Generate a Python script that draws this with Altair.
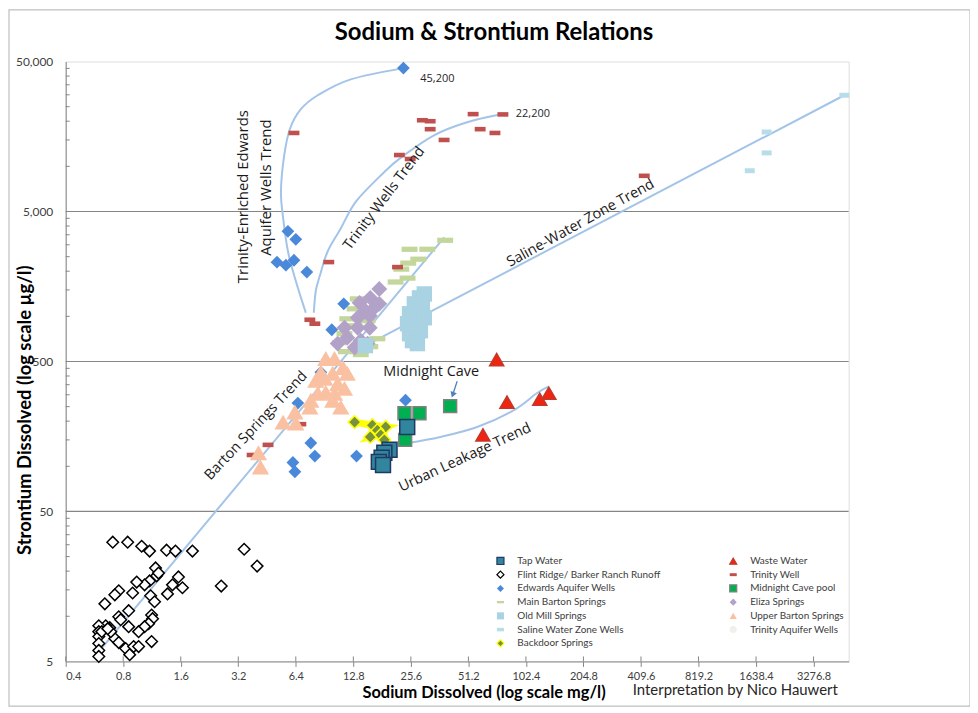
import altair as alt
import pandas as pd

# ---------------- data ----------------
SERIES = ["Tap Water", "Waste Water", "Flint Ridge/ Barker Ranch Runoff", "Trinity Well",
          "Edwards Aquifer Wells", "Midnight Cave pool", "Main Barton Springs", "Eliza Springs",
          "Old Mill Springs", "Upper Barton Springs", "Saline Water Zone Wells",
          "Trinity Aquifer Wells", "Backdoor Springs"]

tap_na = [24.5, 19.8, 18.6, 18.0, 17.4, 18.3]
tap_sr = [183, 129, 123, 114, 107, 102]

waste_na = [72, 81.5, 121, 135, 61]
waste_sr = [515, 268, 280, 307, 162]

flint_na = [0.705, 0.844, 0.999, 1.099, 1.348, 1.501, 1.842, 3.434, 4.015, 2.606, 1.181, 1.196,
            1.099, 1.035, 0.941, 0.896, 0.758, 0.723, 0.641, 1.113, 1.364, 1.448, 1.556, 1.633,
            0.854, 0.758, 1.126, 1.139, 1.086, 1.035, 0.963, 0.854, 0.68, 0.648, 0.596, 0.596,
            0.596, 0.596, 0.596, 0.596, 0.723, 0.758, 0.824, 0.865, 0.907, 0.963, 1.126, 0.689,
            0.618, 0.664, 0.776, 1.224, 1.167]
flint_sr = [31.2, 31.2, 29.3, 27.2, 27.6, 27.2, 27.2, 28.0, 21.6, 15.9, 21.0, 18.6,
            17.2, 16.2, 16.9, 14.3, 14.8, 13.9, 12.1, 13.7, 14.1, 16.2, 18.3, 15.5,
            10.9, 9.93, 10.2, 9.64, 8.93, 8.53, 7.9, 8.53, 8.4, 8.65, 8.65, 7.9,
            7.32, 6.58, 5.92, 5.4, 7.1, 6.68, 6.1, 5.55, 6.28, 6.28, 6.78, 7.9,
            7.9, 8.27, 9.49, 19.4, 12.5]

trin_na = [6.26, 29.4, 32.3, 32.3, 38.2, 22.3, 25.4, 54.2, 59.0, 70.5, 77.6, 426, 9.52,
           7.58, 8.05, 21.8, 3.78, 4.58, 6.8]
trin_sr = [16700, 20300, 20000, 17700, 15000, 11900, 11200, 22300, 17700, 16700, 22200, 8650,
           2300, 949, 893, 2130, 119, 139, 191]

edw_na = [23.4, 5.82, 6.4, 5.1, 5.68, 6.26, 7.31, 11.4, 9.87, 8.65, 6.56, 7.67, 8.05, 6.18,
          6.33, 13.3, 24.0]
edw_sr = [45200, 3690, 3265, 2296, 2193, 2366, 1972, 1211, 814, 423, 264, 143, 117, 106,
          92, 117, 276]

mid_na = [23.7, 28.4, 23.9, 41.1]
mid_sr = [226, 226, 150, 252]

mb_na = [38.7, 31.2, 25.2, 28.0, 24.8, 22.8, 24.6, 21.3, 13.5, 13.0, 11.9, 15.2, 11.5, 10.9,
         11.7, 14.0, 15.7, 17.1, 12.8]
mb_sr = [3214, 2800, 2800, 2404, 2264, 2065, 1798, 1694, 1307, 1122, 963, 935, 766, 668,
         582, 556, 628, 709, 865]

eli_na = [17.5, 15.7, 13.8, 17.5, 14.8, 16.5, 15.6, 13.5, 11.5, 13.5, 15.6, 11.9, 14.0,
          10.6, 13.0, 15.2]
eli_sr = [1521, 1327, 1230, 1211, 1089, 1140, 1009, 978, 840, 840, 840, 721, 689, 658,
          619, 658]

om_na = [28.4, 30.1, 26.7, 29.4, 25.2, 27.7, 30.1, 24.6, 26.7, 28.7, 25.2, 26.1, 27.7, 14.8]
om_sr = [1327, 1410, 1211, 1140, 1040, 1009, 978, 893, 840, 802, 766, 689, 658, 638]

ub_na = [9.18, 10.2, 11.3, 8.65, 8.14, 9.07, 9.98, 11.9, 10.6, 11.5, 8.34, 9.18, 10.2, 7.67,
         9.98, 11.0, 7.58, 6.33, 5.49, 6.4, 4.08, 4.18]
ub_sr = [523, 523, 456, 423, 374, 386, 417, 417, 357, 331, 307, 312, 307, 276, 276, 248,
         248, 230, 197, 194, 123, 99]

sal_na = [4748, 1862, 1862, 1519]
sal_sr = [29800, 16940, 12300, 9350]

bd_na = [13.0, 16.1, 18.9, 17.1, 15.7, 17.8, 18.6]
bd_sr = [197, 188, 183, 174, 157, 162, 150]

# trend lines
tr_enriched_na = [7.22, 6.4, 5.82, 5.48, 5.35, 5.55, 5.96, 6.8, 8.34, 12.4, 23.4]
tr_enriched_sr = [1057, 1720, 2716, 4634, 6780, 11560, 17740, 24040, 29790, 38000, 45200]
tr_trinity_na = [7.95, 8.14, 8.54, 9.4, 11.0, 13.2, 18.2, 22.6, 34.0, 50.4, 74.9]
tr_trinity_sr = [1057, 1476, 1857, 2716, 3856, 5820, 8930, 11400, 16180, 19700, 22200]
tr_saline_na = [14.8, 4748]
tr_saline_sr = [638, 29800]
tr_barton_na = [0.596, 38.3]
tr_barton_sr = [5.82, 3365]
tr_urban_na = [24.6, 36.5, 56.9, 88.6, 116.7, 135]
tr_urban_sr = [143, 157, 183, 237, 307, 341]

# annotation texts
ann_text = ["Trinity-Enriched Edwards", "Aquifer Wells Trend", "Trinity Wells Trend",
            "Saline-Water Zone Trend", "Barton Springs Trend", "Urban Leakage Trend",
            "Midnight Cave"]
ann_na = [3.39, 4.47, 18.6, 198, 3.97, 49.2, 32.7]
ann_sr = [6285, 7210, 6100, 4166, 186, 114, 423]
ann_angle = [270, 270, 307, 331, 313, 335, 0]
ann_size = [15, 15, 14.5, 14.5, 14.5, 14.5, 14.5]

lab_text = ["45,200", "22,200"]
lab_na = [28.7, 90.7]
lab_sr = [38000, 22300]

arrow_na = [44.7]
arrow_sr = [369]
arrow_na2 = [42.4]
arrow_sr2 = [300]

x_ticks = [0.4, 0.8, 1.6, 3.2, 6.4, 12.8, 25.6, 51.2, 102.4, 204.8, 409.6, 819.2, 1638.4, 3276.8]
y_ticks = [5, 50, 500, 5000, 50000]
y_grid = [50, 500, 5000]
y_minor = [10, 15, 20, 25, 30, 35, 40, 45, 100, 150, 200, 250, 300, 350, 400, 450,
           1000, 1500, 2000, 2500, 3000, 3500, 4000, 4500,
           10000, 15000, 20000, 25000, 30000, 35000, 40000, 45000]

# ---------------- styling ----------------
DASH_T = "M-1,-0.42L1,-0.42L1,0.42L-1,0.42Z"
DASH_MB = "M-1,-0.33L1,-0.33L1,0.33L-1,0.33Z"
DASH_S = "M-1,-0.5L1,-0.5L1,0.5L-1,0.5Z"
shapes = ["square", "triangle-up", "diamond", DASH_T, "diamond", "square", DASH_MB, "diamond",
          "square", "triangle-up", DASH_S, "circle", "diamond"]
fills = ["#31859C", "#F2230F", "#FFFFFF", "#C0504D", "#4A88DA", "#00B050", "#C3D69B",
         "#B3A2C7", "#A9D2E3", "#FAC0A2", "#B7DEE8", "#F1F0EC", "#76923C"]
strokes = ["#1F3864", "#C0392B", "#000000", "transparent", "transparent", "#7F7F7F",
           "transparent", "transparent", "transparent", "transparent", "transparent",
           "transparent", "#FFFF00"]
sizes = [225, 200, 135, 120, 165, 169, 256, 256, 240, 300, 100, 20, 165]

# draw order (bottom to top)
draw = [
    ("Main Barton Springs", mb_na, mb_sr),
    ("Eliza Springs", eli_na, eli_sr),
    ("Old Mill Springs", om_na, om_sr),
    ("Trinity Well", trin_na, trin_sr),
    ("Edwards Aquifer Wells", edw_na, edw_sr),
    ("Upper Barton Springs", ub_na, ub_sr),
    ("Flint Ridge/ Barker Ranch Runoff", flint_na, flint_sr),
    ("Saline Water Zone Wells", sal_na, sal_sr),
    ("Waste Water", waste_na, waste_sr),
    ("Backdoor Springs", bd_na, bd_sr),
    ("Midnight Cave pool", mid_na, mid_sr),
    ("Tap Water", tap_na, tap_sr),
]
rows = []
for name, xs, ys in draw:
    for a, b in zip(xs, ys):
        rows.append({"series": name, "na": a, "sr": b})
pts = pd.DataFrame(rows)

trend_rows = []
for name, xs, ys in [("enriched", tr_enriched_na, tr_enriched_sr),
                     ("trinity", tr_trinity_na, tr_trinity_sr),
                     ("saline", tr_saline_na, tr_saline_sr),
                     ("barton", tr_barton_na, tr_barton_sr),
                     ("urban", tr_urban_na, tr_urban_sr)]:
    for i, (a, b) in enumerate(zip(xs, ys)):
        trend_rows.append({"trend": name, "i": i, "na": a, "sr": b})
trends = pd.DataFrame(trend_rows)

bd_line = pd.DataFrame({"i": list(range(len(bd_na))), "na": bd_na, "sr": bd_sr})
ann = pd.DataFrame({"t": ann_text, "na": ann_na, "sr": ann_sr, "angle": ann_angle, "size": ann_size})
labs = pd.DataFrame({"t": lab_text, "na": lab_na, "sr": lab_sr})
arrow = pd.DataFrame({"na": arrow_na, "sr": arrow_sr, "na2": arrow_na2, "sr2": arrow_sr2})
grid = pd.DataFrame({"sr": y_grid})
minor = pd.DataFrame({"sr": y_minor})
xtk = pd.DataFrame({"na": x_ticks})

xscale = alt.Scale(type="log", base=2, domain=[0.4, 5000], nice=False)
yscale = alt.Scale(type="log", base=10, domain=[5, 50000], nice=False)

X = alt.X("na:Q", scale=xscale, axis=alt.Axis(
    values=x_ticks, format="~g", title="Sodium Dissolved (log scale mg/l)",
    titleFont="Lato", titleFontSize=16.5, titleFontWeight="bold", titleColor="black",
    titleX=420, titleY=31, titleBaseline="middle", titleAlign="center",
    labelFont="Lato", labelFontSize=11, labelColor="#404040", labelPadding=4,
    tickSize=5, tickColor="#868686", domainColor="#868686", grid=False))
Y = alt.Y("sr:Q", scale=yscale, axis=alt.Axis(
    values=y_ticks, format=",d", title="Strontium  Dissolved (log scale µg/l)",
    titleFont="Lato", titleFontSize=18.5, titleFontWeight="bold", titleColor="black",
    titleX=-31, titleY=350, titleAlign="center", titleBaseline="bottom", titleAngle=270,
    labelFont="Lato", labelFontSize=12, labelColor="#404040", labelPadding=13,
    ticks=False, domainColor="#868686", grid=False))

legend = alt.Legend(title=None, orient="none", legendX=432, legendY=497, columns=2,
                    direction="horizontal",
                    columnPadding=66, rowPadding=1.8, symbolSize=50, labelFontSize=10,
                    labelColor="#404040", labelFont="Lato", labelOffset=12,
                    symbolStrokeWidth=1.2, labelLimit=300)

border = alt.Chart(pd.DataFrame({"a": [0]})).mark_rect(
    fillOpacity=0, stroke="#BFBFBF", strokeWidth=1.2).encode(
    x=alt.value(-57), x2=alt.value(909), y=alt.value(-52), y2=alt.value(648))

grid_l = alt.Chart(grid).mark_rule(color="#868686", strokeWidth=1.2).encode(y=alt.Y("sr:Q", scale=yscale))
minor_l = alt.Chart(minor).mark_rule(color="#868686", strokeWidth=1).encode(
    y=alt.Y("sr:Q", scale=yscale), x=alt.value(0), x2=alt.value(4))
xin_l = alt.Chart(xtk).mark_rule(color="#868686", strokeWidth=1).encode(
    x=alt.X("na:Q", scale=xscale), y=alt.value(598), y2=alt.value(603))

trend_l = alt.Chart(trends).mark_line(color="#A3C4E8", strokeWidth=2, interpolate="cardinal").encode(
    x=alt.X("na:Q", scale=xscale), y=alt.Y("sr:Q", scale=yscale), detail="trend:N", order="i:Q")

bd_l = alt.Chart(bd_line).mark_line(color="#FFFF00", strokeWidth=7).encode(
    x=alt.X("na:Q", scale=xscale), y=alt.Y("sr:Q", scale=yscale), order="i:Q")

pts_l = alt.Chart(pts).mark_point(filled=True, opacity=1, strokeWidth=1.5).encode(
    x=X, y=Y,
    fill=alt.Fill("series:N", scale=alt.Scale(domain=SERIES, range=fills), legend=legend),
    stroke=alt.Stroke("series:N", scale=alt.Scale(domain=SERIES, range=strokes), legend=legend),
    shape=alt.Shape("series:N", scale=alt.Scale(domain=SERIES, range=shapes), legend=legend),
    size=alt.Size("series:N", scale=alt.Scale(type="ordinal", domain=SERIES, range=sizes), legend=None),
)

ann_l = alt.Chart(ann).mark_text(font="Open Sans", color="#1A1A1A", align="center", baseline="middle").encode(
    x=alt.X("na:Q", scale=xscale), y=alt.Y("sr:Q", scale=yscale), text="t:N",
    angle=alt.Angle("angle:Q", scale=None), size=alt.Size("size:Q", scale=None, legend=None))

labs_l = alt.Chart(labs).mark_text(font="Open Sans", fontSize=11, color="#262626", align="left", baseline="middle").encode(
    x=alt.X("na:Q", scale=xscale), y=alt.Y("sr:Q", scale=yscale), text="t:N")

arrow_l = alt.Chart(arrow).mark_rule(color="#4F81BD", strokeWidth=1.3).encode(
    x=alt.X("na:Q", scale=xscale), y=alt.Y("sr:Q", scale=yscale), x2="na2:Q", y2="sr2:Q")
head_l = alt.Chart(arrow).mark_point(shape="triangle-down", filled=True, color="#4F81BD", size=45, angle=20, opacity=1).encode(
    x=alt.X("na2:Q", scale=xscale), y=alt.Y("sr2:Q", scale=yscale))

credit = alt.Chart(pd.DataFrame({"t": ["Interpretation by Nico Hauwert"]})).mark_text(
    font="Lato", fontSize=15, color="#262626", align="left", baseline="middle").encode(
    text="t:N", x=alt.value(570), y=alt.value(632))

chart = alt.layer(border, grid_l, minor_l, xin_l, trend_l, bd_l, pts_l, ann_l, labs_l, arrow_l, head_l, credit).properties(
    width=787, height=603,
    padding={"left": 58, "top": 52, "right": 122, "bottom": 45},
    autosize=alt.AutoSizeParams(type="none"),
    title=alt.TitleParams("Sodium & Strontium Relations", font="Lato", fontSize=24, fontWeight="bold",
                          color="black", anchor="middle", frame="group", dx=37, offset=-55,
                          baseline="alphabetic"),
).resolve_scale(size="independent").configure_view(
    fill="#F4F3EE", stroke="black", strokeWidth=1.3
).configure(background="white")

chart.save("out.html", embed_options={"renderer": "svg", "actions": False})
